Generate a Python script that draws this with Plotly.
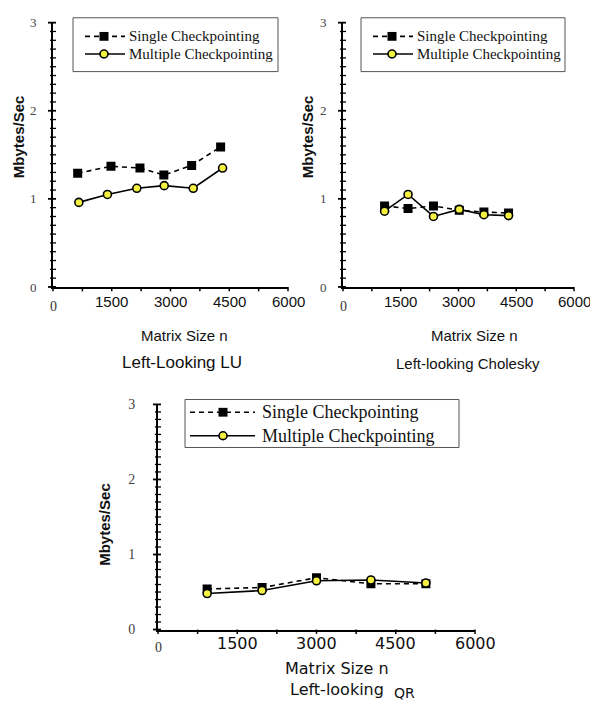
import plotly.graph_objects as go

# ---- data -------------------------------------------------------------
series_names = ["Single Checkpointing", "Multiple Checkpointing"]

# Left-Looking LU
lu_n_single = [630, 1480, 2220, 2830, 3540, 4280]
lu_single = [1.29, 1.37, 1.35, 1.27, 1.38, 1.59]
lu_n_multi = [660, 1390, 2140, 2840, 3580, 4330]
lu_multi = [0.96, 1.05, 1.12, 1.15, 1.12, 1.35]

# Left-looking Cholesky
chol_n = [1080, 1690, 2350, 3020, 3660, 4300]
chol_single = [0.92, 0.89, 0.92, 0.87, 0.85, 0.84]
chol_multi = [0.86, 1.05, 0.80, 0.88, 0.82, 0.81]

# Left-looking QR
qr_n = [930, 1970, 3000, 4030, 5070]
qr_single = [0.54, 0.56, 0.69, 0.61, 0.61]
qr_multi = [0.48, 0.52, 0.65, 0.66, 0.62]

x_tick_vals = [0, 1500, 3000, 4500, 6000]
x_tick_text = ["0", "1500", "3000", "4500", "6000"]
y_tick_vals = [0, 1, 2, 3]
y_tick_text = ["0", "1", "2", "3"]

# ---- page geometry (pixels -> paper) ---------------------------------
W, H = 590, 709
X_MAX = x_tick_vals[-1]
Y_MAX = y_tick_vals[-1]


def px(x):
    return x / W


def py(y):
    return 1 - y / H


SERIF = "Liberation Serif, Times New Roman, serif"
SANS = "Liberation Sans, Arial, sans-serif"
WIDE = "DejaVu Sans, Verdana, sans-serif"
YELLOW = "#f4f142"

fig = go.Figure()


def add_pair(xs_single, ys_single, xs_multi, ys_multi, xa, ya):
    fig.add_trace(go.Scatter(
        x=xs_single, y=ys_single, xaxis=xa, yaxis=ya, name=series_names[0],
        mode="lines+markers", showlegend=False,
        line=dict(color="black", width=1.6, dash="5px,4px"),
        marker=dict(symbol="square", size=9, color="black"),
    ))
    fig.add_trace(go.Scatter(
        x=xs_multi, y=ys_multi, xaxis=xa, yaxis=ya, name=series_names[1],
        mode="lines+markers", showlegend=False,
        line=dict(color="black", width=1.6),
        marker=dict(symbol="circle", size=8, color=YELLOW,
                    line=dict(color="black", width=1.6)),
    ))


add_pair(lu_n_single, lu_single, lu_n_multi, lu_multi, "x", "y")
add_pair(chol_n, chol_single, chol_n, chol_multi, "x2", "y2")
add_pair(qr_n, qr_single, qr_n, qr_multi, "x3", "y3")


def x_axis(domain, anchor):
    return dict(
        domain=domain, anchor=anchor, range=[0, X_MAX],
        showline=True, linecolor="black", linewidth=2,
        showgrid=False, zeroline=False, showticklabels=False, ticks="",
    )


def y_axis(domain, anchor, standoff, size):
    return dict(
        domain=domain, anchor=anchor, range=[0, Y_MAX],
        showline=True, linecolor="black", linewidth=2,
        showgrid=False, zeroline=False, ticks="",
        tickmode="array", tickvals=y_tick_vals, ticktext=y_tick_text,
        tickfont=dict(family=SERIF, size=size, color="#444"),
        ticklabelstandoff=standoff,
    )


# pixel frame of each panel: left, right, bottom, top
P1 = (53, 288, 286, 16)
P2 = (343, 574, 286, 16)
P3 = (158, 475, 636, 406)


def dom(p):
    return [px(p[0]), px(p[1])], [py(p[2]), py(p[3])]


fig.update_layout(
    width=W, height=H, margin=dict(l=0, r=0, t=0, b=0),
    paper_bgcolor="white", plot_bgcolor="white", showlegend=False,
    xaxis=x_axis(dom(P1)[0], "y"),
    yaxis=y_axis(dom(P1)[1], "x", 12, 13),
    xaxis2=x_axis(dom(P2)[0], "y2"),
    yaxis2=y_axis(dom(P2)[1], "x2", 12, 13),
    xaxis3=x_axis(dom(P3)[0], "y3"),
    yaxis3=y_axis(dom(P3)[1], "x3", 18, 14),
)


def tick_marks(p):
    """Tick marks (drawn on the page so they are not clipped by the plot area):
    every 750 below the size axis, crossing ticks every 0.1 on the value axis."""
    left, right, bottom, top = p
    x_step = (x_tick_vals[1] - x_tick_vals[0]) / 2
    k = 0
    while k * x_step <= X_MAX:
        xp = left + (right - left) * (k * x_step) / X_MAX
        fig.add_shape(type="line", xref="paper", yref="paper",
                      x0=px(xp), x1=px(xp), y0=py(bottom), y1=py(bottom + 4.5),
                      line=dict(color="black", width=1.5))
        k += 1
    for k in range(10 * Y_MAX + 1):
        yp = bottom - (bottom - top) * (k / 10) / Y_MAX
        major = k % 10 == 0
        fig.add_shape(type="line", xref="paper", yref="paper",
                      x0=px(left - (5 if major else 3)), x1=px(left + 3), y0=py(yp), y1=py(yp),
                      line=dict(color="black", width=1.8 if major else 1.3))


tick_marks(P1)
tick_marks(P2)
tick_marks(P3)


def text(x, y, s, family, size, color="#111", anchor="center", angle=0, bold=False,
         xref="paper"):
    fig.add_annotation(
        x=x if xref != "paper" else px(x), y=py(y), xref=xref, yref="paper",
        text=f"<b>{s}</b>" if bold else s,
        showarrow=False, xanchor=anchor, yanchor="middle", textangle=angle,
        font=dict(family=family, size=size, color=color),
    )


def x_labels(xref, y, family, size, zero_y):
    # numeric labels placed on the axis scale; the origin label is set in serif
    for v, t in zip(x_tick_vals, x_tick_text):
        if v == 0:
            text(v, zero_y, t, SERIF, 14, "#333", xref=xref)
        else:
            text(v, y, t, family, size, "#111", xref=xref)


x_labels("x", 301, SANS, 15, 306)
x_labels("x2", 301, SANS, 15, 306)
x_labels("x3", 650, WIDE, 16, 654)

# axis titles and panel captions
text(184, 336, "Matrix Size n", SANS, 15)
text(182, 363, "Left-Looking LU", SANS, 17)
text(18, 133, "Mbytes/Sec", SANS, 15, angle=-90, bold=True)

text(474, 336, "Matrix Size n", SANS, 15)
text(468, 364, "Left-looking Cholesky", SANS, 15)
text(307, 133, "Mbytes/Sec", SANS, 15, angle=-90, bold=True)

text(337, 676, "Matrix Size n", WIDE, 16)
text(386, 697, "Left-looking", WIDE, 16, anchor="right")
text(392, 701, "QR", WIDE, 14, anchor="left")
text(105, 529, "Mbytes/Sec", SANS, 15, angle=-90, bold=True)


def legend_box(x0, y0, x1, y1, rows, lx0, lx1, mx, tx, size):
    fig.add_shape(type="rect", xref="paper", yref="paper",
                  x0=px(x0), x1=px(x1), y0=py(y1), y1=py(y0),
                  line=dict(color="#555", width=1), fillcolor="white")
    for (ry, kind), label in zip(rows, series_names):
        dash = "5px,4px" if kind == "square" else "solid"
        fig.add_shape(type="line", xref="paper", yref="paper",
                      x0=px(lx0), x1=px(lx1), y0=py(ry), y1=py(ry),
                      line=dict(color="black", width=1.6, dash=dash))
        if kind == "square":
            fig.add_shape(type="rect", xref="paper", yref="paper",
                          x0=px(mx - 4.5), x1=px(mx + 4.5), y0=py(ry + 4.5), y1=py(ry - 4.5),
                          line=dict(width=0), fillcolor="black")
        else:
            fig.add_shape(type="circle", xref="paper", yref="paper",
                          x0=px(mx - 4), x1=px(mx + 4), y0=py(ry + 4), y1=py(ry - 4),
                          line=dict(color="black", width=1.6), fillcolor=YELLOW)
        text(tx, ry, label, SERIF, size, "#111", anchor="left")


legend_box(73, 11, 278, 66, [(30, "square"), (48, "circle")], 85, 125, 104, 127, 15)
legend_box(361, 11, 565, 66, [(30, "square"), (48, "circle")], 373, 413, 392, 415, 15)
legend_box(185, 401, 459, 450, [(414, "square"), (438, "circle")], 190, 255, 223, 260, 18)

fig.write_html("out.html")
